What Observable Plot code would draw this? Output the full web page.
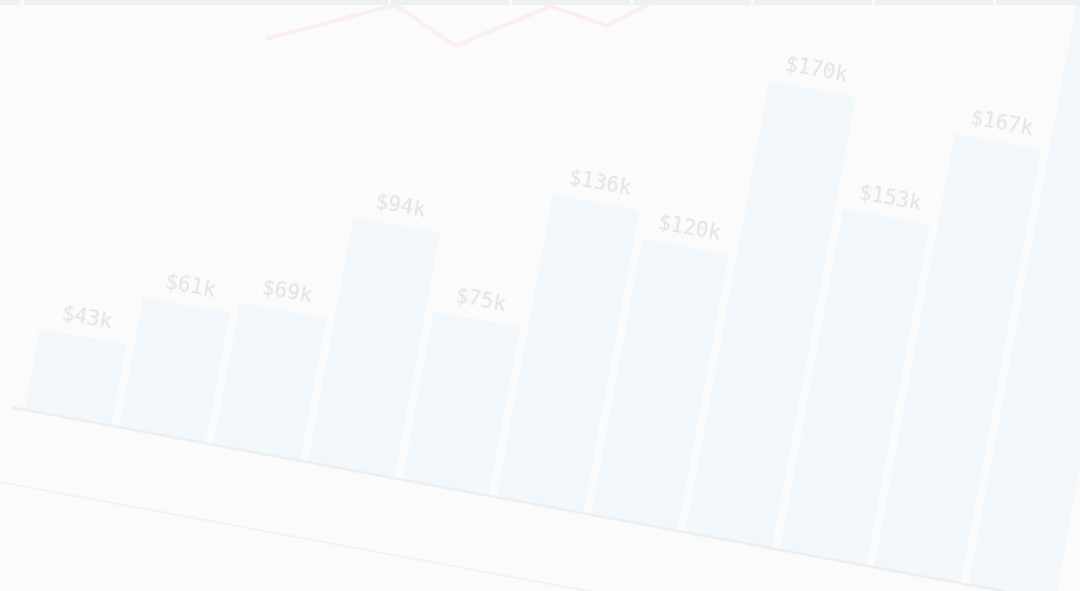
<!DOCTYPE html>
<html>
<head>
<meta charset="utf-8">
<script src="https://cdn.jsdelivr.net/npm/d3@7"></script>
<script src="https://cdn.jsdelivr.net/npm/@observablehq/plot@0.6"></script>
<style>
  html, body { margin: 0; padding: 0; background: #fbfbfb; }
  #stage { position: relative; width: 1080px; height: 591px; overflow: hidden; background: #fbfbfb; }
  #tabs { position: absolute; left: 0; top: 0; width: 1080px; height: 5px; z-index: 3; }
  #tabs div { position: absolute; top: 0; height: 5px; background: #eef0f2; }
  #rot { position: absolute; left: 0; top: 0; width: 1300px; height: 900px; transform-origin: 0 0; transform: rotate(10.5deg); filter: blur(0.5px); }
  #trend, #chart { position: absolute; left: 0; top: -260px; width: 1220px; height: 880px; }
  #trend svg, #chart svg { max-width: none !important; }
  #edge { position: absolute; left: -100px; top: 473px; width: 1500px; height: 0; border-top: 2px solid #f1f2f3; }
</style>
</head>
<body>
<div id="stage">
  <div id="tabs"></div>
  <div id="rot">
    <div id="edge"></div>
    <div id="trend"></div>
    <div id="chart"></div>
  </div>
</div>
<script>
// ---- data ----
const categories = ["1", "2", "3", "4", "5", "6", "7", "8", "9", "10", "11"];
const labels = ["$43k", "$61k", "$69k", "$94k", "$75k", "$136k", "$120k", "$170k", "$153k", "$167k", ""];
// bar heights as drawn (in $k on the drawn scale)
const barHeights = [36.4, 58.8, 64.1, 110.8, 76.0, 136.8, 124.7, 203.9, 154.0, 195.8, 284];
// faint background trend line (position in bar-index units, value in $k)
const trendIndex = [1.36, 2.59, 3.28, 4.17, 4.78, 5.45];
const trendValues = [182, 207, 194, 219, 215, 238];
// top header tabs (widths)
const tabWidths = [20, 364, 118, 118, 118, 118, 118, 84];

// ---- header tabs ----
{
  const tabs = document.getElementById("tabs");
  let x = 0;
  tabWidths.forEach((w, i) => {
    const d = document.createElement("div");
    d.style.left = x + "px";
    d.style.width = w + "px";
    tabs.appendChild(d);
    x += w + (i === 0 ? 4 : 3);
  });
}

const bars = categories.map((c, i) => ({cat: c, h: barHeights[i], label: labels[i]}));
const trend = trendIndex.map((t, i) => ({t, v: trendValues[i]}));

const W = 1220, H = 880;
const yScale = {domain: [0, 300], range: [658, 658 - 300 * 2.25]};

const chart = Plot.plot({
  width: W,
  height: H,
  marginLeft: 86,
  marginRight: 0,
  marginTop: 0,
  marginBottom: 0,
  style: {background: "transparent", overflow: "visible", maxWidth: "none"},
  x: {type: "band", domain: categories, range: [94.2, 1150.5], paddingInner: 0.088, paddingOuter: 0, align: 0.5, axis: null},
  y: {...yScale, axis: null},
  marks: [
    Plot.barY(bars, {x: "cat", y: "h", fill: "#f1f7fb"}),
    Plot.ruleY([0], {stroke: "#e9ecee", strokeWidth: 2}),
    Plot.text(bars, {
      x: "cat", y: "h", text: "label", dy: -20,
      fill: "#e1e3e6", fontSize: 21, fontFamily: "DejaVu Sans Mono",
      textAnchor: "middle", lineAnchor: "middle"
    })
  ]
});
document.getElementById("chart").appendChild(chart);

const trendPlot = Plot.plot({
  width: W,
  height: H,
  margin: 0,
  style: {background: "transparent", overflow: "visible", maxWidth: "none"},
  x: {type: "linear", domain: [0, 10], range: [138.35, 138.35 + 968], axis: null},
  y: {...yScale, axis: null},
  marks: [
    Plot.line(trend, {x: "t", y: "v", stroke: "#faeeef", strokeWidth: 4, strokeLinejoin: "round"})
  ]
});
document.getElementById("trend").appendChild(trendPlot);
</script>
</body>
</html>
